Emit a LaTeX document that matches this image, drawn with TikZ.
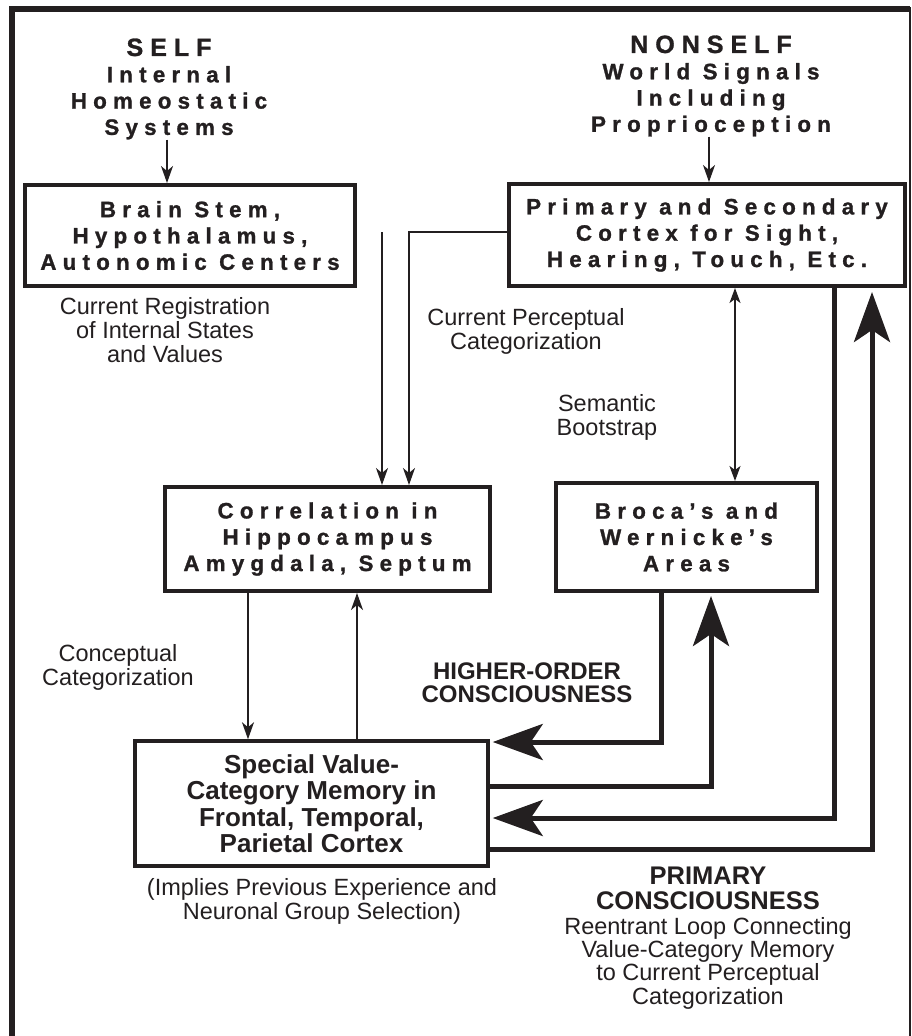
\documentclass[tikz,border=0pt]{standalone}
\usepackage{fontspec}
\setmainfont{Liberation Sans}
\newfontfamily\spacedfont{Liberation Sans}[LetterSpace=28,BoldFeatures={FakeBold=1.2}]
\usetikzlibrary{arrows.meta}
\definecolor{ink}{RGB}{35,31,32}
\tikzset{
  box/.style={draw=ink, line width=4pt, inner sep=0pt, align=center,
    font=\spacedfont\bfseries\fontsize{22.3pt}{26.3pt}\selectfont},
  sptext/.style={inner sep=0pt, align=center,
    font=\spacedfont\bfseries\fontsize{22.3pt}{26.3pt}\selectfont},
  regtext/.style={inner sep=0pt, align=center, text=ink,
    font=\fontsize{23.5pt}{24pt}\selectfont},
  boldtext/.style={inner sep=0pt, align=center, text=ink,
    font=\bfseries\fontsize{24pt}{23pt}\selectfont},
  thinarrow/.style={draw=ink, line width=1.5pt, -{Stealth[length=17pt,width=12pt,inset=5pt]}},
  thinline/.style={draw=ink, line width=1.5pt},
  thickarrow/.style={draw=ink, line width=5pt, -{Stealth[length=50pt,width=36pt,inset=12pt]}},
}
\begin{document}
\begin{tikzpicture}[x=1pt,y=-1pt]
\useasboundingbox (0,0) rectangle (912,1036);
% frame
\draw[ink, line width=5.5pt] (12,1040) -- (12,9) -- (910,9);
\draw[ink, line width=4.5pt] (10,9) -- (911,9);
\draw[ink, line width=2.5pt] (910,9) -- (910,1040);

% headings
\node[sptext, text=ink] (selftxt) at (169,89) {{\fontsize{25pt}{26.3pt}\selectfont SELF}\\Internal\\Homeostatic\\Systems};
\node[sptext, text=ink] (nonselftxt) at (711,86) {{\fontsize{25pt}{26.3pt}\selectfont NONSELF}\\World Signals\\Including\\Proprioception};

% boxes
\node[box, text=ink, minimum width=330pt, minimum height=101pt] (bs) at (190,235.5)
  {Brain Stem,\\Hypothalamus,\\Autonomic Centers};
\node[box, text=ink, minimum width=396pt, minimum height=102pt] (prim) at (707,235)
  {Primary and Secondary\\Cortex for Sight,\\Hearing, Touch, Etc.};
\node[box, text=ink, minimum width=325pt, minimum height=104pt] (corr) at (327.5,539)
  {Correlation in\\Hippocampus\\Amygdala, Septum};
\node[box, text=ink, minimum width=261pt, minimum height=108pt] (broca) at (686.5,537)
  {Broca’s and\\Wernicke’s\\Areas};
\node[box, text=ink, line width=3.5pt, minimum width=353pt, minimum height=125pt,
  font=\bfseries\fontsize{26pt}{26.5pt}\selectfont] (spec) at (311.5,803.5)
  {Special Value-\\Category Memory in\\Frontal, Temporal,\\Parietal Cortex};

% labels
\node[regtext] (lreg) at (165,330) {Current Registration\\of Internal States\\and Values};
\node[regtext] (lperc) at (526,331.5) {Current Perceptual\\Categorization};
\node[regtext] (lsem) at (607,417) {Semantic\\Bootstrap};
\node[regtext] (lconc) at (118,667.5) {Conceptual\\Categorization};
\node[regtext] (limpl) at (322,901) {(Implies Previous Experience and\\Neuronal Group Selection)};
\node[boldtext] (lhigh) at (527,683) {HIGHER-ORDER\\CONSCIOUSNESS};
\node[boldtext, font=\bfseries\fontsize{25.5pt}{25pt}\selectfont] (lprim) at (708,888.5) {PRIMARY\\CONSCIOUSNESS};
\node[regtext, font=\fontsize{23.5pt}{23.3pt}\selectfont] (lreen) at (708,963)
  {Reentrant Loop Connecting\\Value-Category Memory\\to Current Perceptual\\Categorization};

% thin connectors
\draw[thinarrow] (selftxt.south -| 167,0) -- (bs.north -| 167,0);
\draw[thinarrow] (nonselftxt.south -| 709,0) -- (prim.north -| 709,0);
\coordinate (k0) at (382,232);
\coordinate (k1) at (409,232);
\draw[thinarrow] (k0) -- (k0 |- corr.north);
\draw[thinarrow] (prim.west |- k1) -- (k1) -- (k1 |- corr.north);
\coordinate (k2) at (248,660);
\coordinate (k3) at (357,660);
\draw[thinarrow] (k2 |- corr.south) -- (k2 |- spec.north);
\draw[thinarrow] (k3 |- spec.north) -- (k3 |- corr.south);
\coordinate (k4) at (735,400);
\draw[thinline, {Stealth[length=15pt,width=11pt,inset=4pt]}-{Stealth[length=15pt,width=11pt,inset=4pt]}]
  (k4 |- prim.south) -- (k4 |- broca.north);

% thick connectors
\coordinate (t1) at (661,742);
\coordinate (t2) at (711,786);
\coordinate (t3) at (834,818);
\coordinate (t4) at (872,849);
\draw[thickarrow, shorten >=3pt] (t1 |- broca.south) -- (t1) -- (spec.east |- t1);
\draw[thickarrow, shorten >=3pt] (spec.east |- t2) -- (t2) -- (t2 |- broca.south);
\draw[thickarrow, shorten >=3pt] (t3 |- prim.south) -- (t3) -- (spec.east |- t3);
\draw[thickarrow, shorten >=4pt] (spec.east |- t4) -- (t4) -- (t4 |- prim.south);
\end{tikzpicture}
\end{document}
